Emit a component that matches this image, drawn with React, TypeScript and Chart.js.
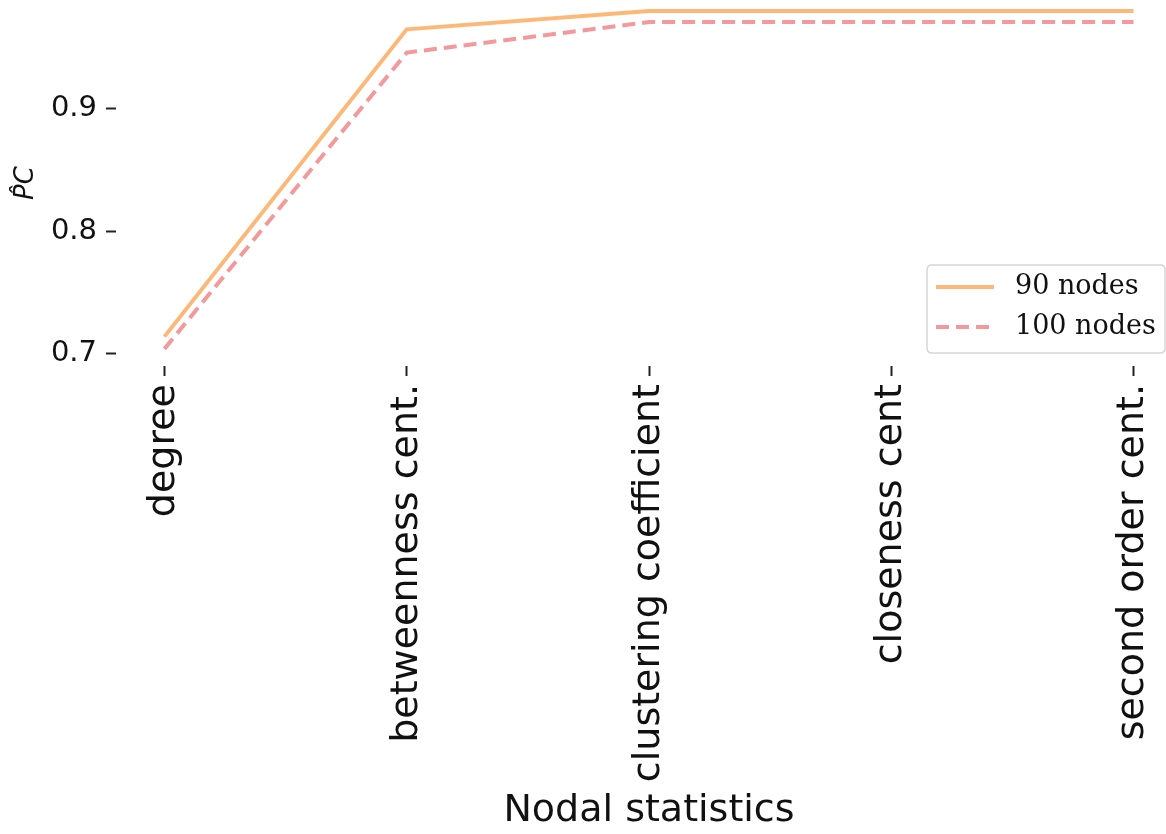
import React, { useEffect, useRef } from "react";
import { Chart, registerables } from "chart.js";

Chart.register(...registerables);

const categories = [
  "degree",
  "betweenness cent.",
  "clustering coefficient",
  "closeness cent",
  "second order cent.",
];
const nodes90 = [0.714, 0.965, 0.980, 0.980, 0.980];
const nodes100 = [0.704, 0.946, 0.971, 0.971, 0.971];
const yTicks = [0.7, 0.8, 0.9];
const seriesLabels = ["90 nodes", "100 nodes"];

const legendPlugin = {
  id: "boxLegend",
  afterDraw(chart: any) {
    const ctx = chart.ctx;
    const x0 = 927, y0 = 265, w = 238, h = 88;
    ctx.save();
    ctx.beginPath();
    const r = 5;
    ctx.moveTo(x0 + r, y0);
    ctx.lineTo(x0 + w - r, y0);
    ctx.quadraticCurveTo(x0 + w, y0, x0 + w, y0 + r);
    ctx.lineTo(x0 + w, y0 + h - r);
    ctx.quadraticCurveTo(x0 + w, y0 + h, x0 + w - r, y0 + h);
    ctx.lineTo(x0 + r, y0 + h);
    ctx.quadraticCurveTo(x0, y0 + h, x0, y0 + h - r);
    ctx.lineTo(x0, y0 + r);
    ctx.quadraticCurveTo(x0, y0, x0 + r, y0);
    ctx.closePath();
    ctx.fillStyle = "rgba(255,255,255,0.8)";
    ctx.fill();
    ctx.lineWidth = 1.5;
    ctx.strokeStyle = "#d6d6d6";
    ctx.stroke();
    const rowsY = [287, 327];
    chart.data.datasets.forEach((ds: any, i: number) => {
      const y = rowsY[i];
      ctx.beginPath();
      ctx.setLineDash(ds.borderDash || []);
      ctx.lineWidth = ds.borderWidth;
      ctx.strokeStyle = ds.borderColor;
      ctx.moveTo(936, y);
      ctx.lineTo(994, y);
      ctx.stroke();
      ctx.setLineDash([]);
      ctx.fillStyle = "#111";
      ctx.font = "27px 'DejaVu Serif'";
      ctx.textBaseline = "middle";
      ctx.textAlign = "left";
      ctx.fillText(ds.label, 1015, y);
    });
    ctx.restore();
  },
};

export default function App() {
  const ref = useRef<HTMLCanvasElement>(null);
  useEffect(() => {
    if (!ref.current) return;
    Chart.defaults.font.family = "'DejaVu Sans'";
    const chart = new Chart(ref.current, {
      type: "line",
      data: {
        datasets: [
          {
            label: seriesLabels[0],
            data: nodes90.map((v, i) => ({ x: i, y: v })),
            borderColor: "#fdb877",
            borderWidth: 4,
            pointRadius: 0,
            tension: 0,
            borderJoinStyle: "miter",
            fill: false,
          },
          {
            label: seriesLabels[1],
            data: nodes100.map((v, i) => ({ x: i, y: v })),
            borderColor: "#f4999b",
            borderWidth: 4,
            borderDash: [13, 7],
            pointRadius: 0,
            tension: 0,
            borderJoinStyle: "miter",
            fill: false,
          },
        ],
      },
      options: {
        animation: false,
        responsive: false,
        clip: false as any,
        layout: { padding: { left: 0, right: 18, top: 0, bottom: 0 } },
        plugins: { legend: { display: false }, tooltip: { enabled: false } },
        scales: {
          x: {
            type: "linear",
            min: -0.2,
            max: 4.2,
            afterBuildTicks: (scale: any) => {
              scale.ticks = categories.map((_, i) => ({ value: i }));
            },
            afterFit: (scale: any) => {
              scale.height = 468;
              scale.paddingLeft = 0;
              scale.paddingRight = 0;
            },
            border: { display: false },
            grid: {
              display: true,
              drawOnChartArea: false,
              drawTicks: true,
              tickLength: 10,
              tickWidth: 2,
              tickColor: "#222",
            },
            ticks: {
              autoSkip: false,
              minRotation: 90,
              maxRotation: 90,
              padding: 8,
              color: "#111",
              font: { size: 38 },
              callback: (v: any) => categories[v] ?? "",
            },
            title: {
              display: true,
              text: "Nodal statistics",
              color: "#111",
              font: { size: 38 },
              padding: { top: 0, bottom: 0 },
            },
          },
          y: {
            type: "linear",
            min: 0.69,
            max: 0.989,
            afterBuildTicks: (scale: any) => {
              scale.ticks = yTicks.map((v) => ({ value: v }));
            },
            afterFit: (scale: any) => {
              scale.width = 116;
              scale.paddingTop = 0;
              scale.paddingBottom = 0;
            },
            border: { display: false },
            grid: {
              display: true,
              drawOnChartArea: false,
              drawTicks: true,
              tickLength: 10,
              tickWidth: 2,
              tickColor: "#222",
            },
            ticks: {
              padding: 9,
              color: "#111",
              font: { size: 29 },
              callback: (v: any) => Number(v).toFixed(1),
            },
            title: {
              display: true,
              text: "P\u0302C",
              color: "#111",
              font: { size: 26, style: "italic" },
              padding: { top: 11, bottom: 0 },
            },
          },
        },
      },
      plugins: [legendPlugin],
    });
    return () => chart.destroy();
  }, []);
  return (
    <div
      style={{
        position: "fixed",
        top: 0,
        left: 0,
        width: 1166,
        height: 834,
        overflow: "hidden",
        background: "#fff",
      }}
    >
      <canvas
        ref={ref}
        width={1200}
        height={834}
        style={{ width: 1200, height: 834, display: "block" }}
      />
    </div>
  );
}
